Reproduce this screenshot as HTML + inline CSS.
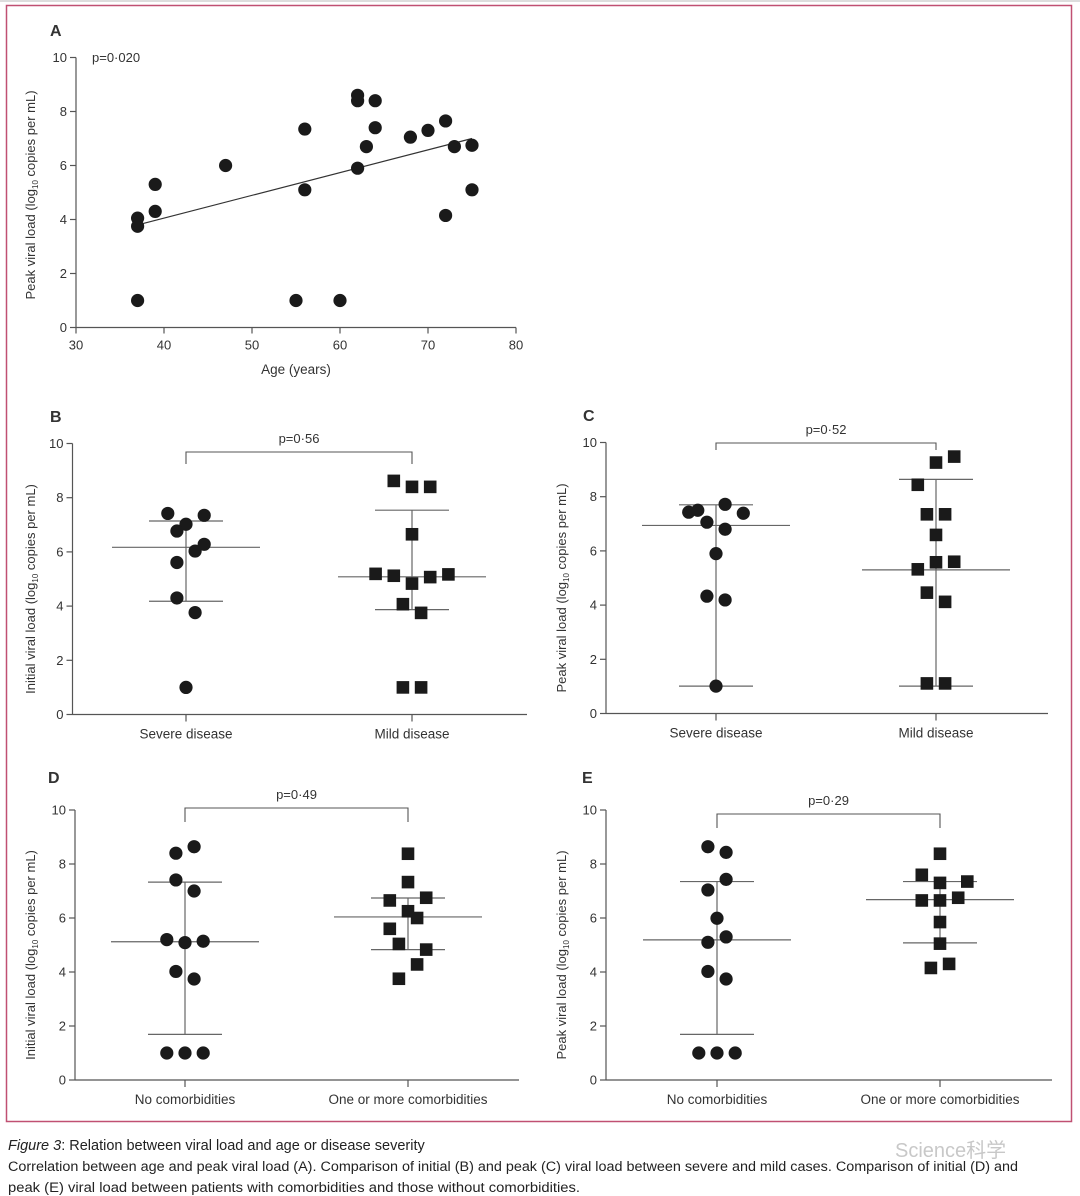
<!DOCTYPE html>
<html><head><meta charset="utf-8"><style>
html,body{margin:0;padding:0;background:#fff;}
svg{display:block;font-family:"Liberation Sans","Noto Sans CJK SC",sans-serif;}
</style></head><body>
<svg id="fig" width="1080" height="1196" viewBox="0 0 1080 1196" xmlns="http://www.w3.org/2000/svg">
<rect x="0" y="0" width="1080" height="2" fill="#ddd"/>
<rect x="6.5" y="5.5" width="1065" height="1116" fill="none" stroke="#c05072" stroke-width="1.5"/>
<g id="plots"></g>
<text x="8" y="1150" font-size="14.5" fill="#222"><tspan font-style="italic">Figure 3</tspan>: Relation between viral load and age or disease severity</text>
<text x="8" y="1171" font-size="13.5" fill="#222" textLength="1010" lengthAdjust="spacingAndGlyphs">Correlation between age and peak viral load (A). Comparison of initial (B) and peak (C) viral load between severe and mild cases. Comparison of initial (D) and</text>
<text x="8" y="1192" font-size="13.5" fill="#222" textLength="572" lengthAdjust="spacingAndGlyphs">peak (E) viral load between patients with comorbidities and those without comorbidities.</text>
<text x="895" y="1157" font-size="20" fill="#c8c8c8">Science科学</text>
</svg>
<script>
// Panel A data
const ageA = [37,37,37,39,39,47,55,56,56,60,62,62,62,63,64,64,68,70,72,72,73,75,75];
const loadA = [4.05,3.75,1,5.3,4.3,6,1,7.35,5.1,1,8.6,8.4,5.9,6.7,8.4,7.4,7.05,7.3,7.65,4.15,6.7,6.75,5.1];
const fitA = [[37,3.8],[75,7.0]];
const xTicksA = [30,40,50,60,70,80];
const yTicks = [0,2,4,6,8,10];
// Panel B
const bSevereOff = [-2,2,0,-1,2,1,-1,-1,1,0];
const bSevereVal = [7.42,7.35,7.02,6.77,6.28,6.03,5.61,4.3,3.76,1.0];
const bMildOff = [-2,0,2,0,-4,-2,0,2,4,-1,1,-1,1];
const bMildVal = [8.62,8.4,8.4,6.65,5.19,5.12,4.83,5.07,5.17,4.07,3.75,1.0,1.0];
const bStats = [[6.17,7.14,4.18],[5.08,7.54,3.87]];
// Panel C
const cSevereOff = [-3,-2,-1,1,3,1,0,-1,1,0];
const cSevereVal = [7.43,7.5,7.06,7.72,7.39,6.8,5.9,4.33,4.19,1.01];
const cMildOff = [-2,0,2,-1,1,0,0,2,-2,-1,1,-1,1];
const cMildVal = [8.44,9.26,9.48,7.35,7.35,6.59,5.58,5.6,5.32,4.46,4.12,1.11,1.11];
const cStats = [[6.94,7.7,1.01],[5.3,8.64,1.01]];
// Panel D
const dNoOff = [-1,1,-1,1,-2,0,2,-1,1,-2,0,2];
const dNoVal = [8.4,8.64,7.41,7.0,5.2,5.09,5.14,4.02,3.74,1.0,1.0,1.0];
const dOneOff = [0,0,-2,2,0,1,-2,-1,2,1,-1];
const dOneVal = [8.38,7.33,6.65,6.75,6.25,6.0,5.6,5.04,4.83,4.28,3.75];
const dStats = [[5.12,7.33,1.69],[6.04,6.74,4.83]];
// Panel E
const eNoOff = [-1,1,1,-1,0,-1,1,-1,1,-2,0,2];
const eNoVal = [8.64,8.43,7.43,7.04,5.99,5.1,5.3,4.02,3.74,1.0,1.0,1.0];
const eOneOff = [0,-2,0,3,-2,0,2,0,0,-1,1];
const eOneVal = [8.38,7.6,7.3,7.35,6.65,6.65,6.75,5.85,5.05,4.15,4.3];
const eStats = [[5.19,7.35,1.69],[6.68,7.35,5.08]];

const NS = "http://www.w3.org/2000/svg";
const root = document.getElementById('plots');
const AX = "#555", TX = "#333", MK = "#1a1a1a";
function mk(tag, attrs, parent){
  const e = document.createElementNS(NS, tag);
  for (const k in attrs) e.setAttribute(k, attrs[k]);
  (parent||root).appendChild(e);
  return e;
}
function txt(x,y,s,size,anchor,parent){
  const t = mk('text',{x:x,y:y,'font-size':size,'text-anchor':anchor||'middle',fill:TX},parent);
  t.textContent = s;
  return t;
}
function yTitle(cx, cy, prefix, parent){
  const t = mk('text',{transform:`translate(${cx},${cy}) rotate(-90)`,'font-size':13,'text-anchor':'middle',fill:TX},parent);
  
  
  const a = document.createElementNS(NS,'tspan'); a.textContent = prefix + ' (log'; t.appendChild(a);
  const b = document.createElementNS(NS,'tspan'); b.setAttribute('font-size','8'); b.setAttribute('dy','3'); b.textContent='10'; t.appendChild(b);
  const c = document.createElementNS(NS,'tspan'); c.setAttribute('dy','-3'); c.textContent=' copies per mL)'; t.appendChild(c);
}
function yAxis(g, x0, yS, top, bottom){
  const l = mk('line',{x1:x0,y1:top,x2:x0,y2:bottom,stroke:AX,'stroke-width':1.2},g);
  
  
  yTicks.forEach(v=>{
    mk('line',{x1:x0-6,y1:yS(v),x2:x0,y2:yS(v),stroke:AX,'stroke-width':1.2},g);
    const t = txt(x0-9, yS(v)+4.5, String(v), 13, 'end', g);
    
    
  });
}
function dot(g,x,y,name){
  const c = mk('circle',{cx:x,cy:y,r:6.6,fill:MK},g);
  
  
}
function sq(g,x,y,name){
  const r = mk('rect',{x:x-6.3,y:y-6.3,width:12.6,height:12.6,fill:MK},g);
  
  
}

// ---- Panel A ----
(function(){
  const g = mk('g',{});
  
  
  const x0=76, x1=516, y0=327.5, y1=57.5;
  const xS = v => x0 + (v-30)/(80-30)*(x1-x0);
  const yS = v => y0 - v/10*(y0-y1);
  const pl = txt(50,36,'A',16,'start',g); pl.setAttribute('font-weight','bold');
  
  
  yAxis(g,x0,yS,y1,y0);
  const xl = mk('line',{x1:x0,y1:y0,x2:x1,y2:y0,stroke:AX,'stroke-width':1.2},g);
  
  
  xTicksA.forEach(v=>{
    mk('line',{x1:xS(v),y1:y0,x2:xS(v),y2:y0+6,stroke:AX,'stroke-width':1.2},g);
    const t = txt(xS(v), y0+22, String(v), 13, 'middle', g);
    
    
  });
  const xt = txt((x0+x1)/2, 374, 'Age (years)', 13.5, 'middle', g);
  
  
  yTitle(35, 195, 'Peak viral load', g);
  const pv = txt(92,62,'p=0·020',13,'start',g);
  
  
  const fl = mk('line',{x1:xS(fitA[0][0]),y1:yS(fitA[0][1]),x2:xS(fitA[1][0]),y2:yS(fitA[1][1]),stroke:'#333','stroke-width':1.2},g);
  
  
  ageA.forEach((a,i)=>dot(g,xS(a),yS(loadA[i]),'data-point'));
})();

// ---- Category panels ----
function catPanel(o){
  const g = mk('g',{});
  
  
  const yS = v => o.y0 - v/10*(o.y0-o.y1);
  const pl = txt(o.lx,o.ly,o.label,16,'start',g); pl.setAttribute('font-weight','bold');
  
  
  yAxis(g,o.x0,yS,o.y1,o.y0);
  const xl = mk('line',{x1:o.x0,y1:o.y0,x2:o.x1,y2:o.y0,stroke:AX,'stroke-width':1.2},g);
  
  
  o.cats.forEach((c,i)=>{
    mk('line',{x1:o.cx[i],y1:o.y0,x2:o.cx[i],y2:o.y0+7,stroke:AX,'stroke-width':1.2},g);
    const t = txt(o.cx[i], o.y0+24, c, 13.5, 'middle', g);
    
    
  });
  yTitle(o.tx, (o.y0+o.y1)/2+10, o.ytitle, g);
  // bracket
  const br = mk('path',{d:`M${o.cx[0]},${o.bb} V${o.bt} H${o.cx[1]} V${o.bb}`,fill:'none',stroke:AX,'stroke-width':1.1},g);
  
  
  const pv = txt((o.cx[0]+o.cx[1])/2, o.bt-9, o.p, 13, 'middle', g);
  
  
  // stats
  o.stats.forEach((s,i)=>{
    const c = o.cx[i];
    const m = mk('line',{x1:c-74,y1:yS(s[0]),x2:c+74,y2:yS(s[0]),stroke:'#666','stroke-width':1.2},g);
    
    
    const u = mk('line',{x1:c-37,y1:yS(s[1]),x2:c+37,y2:yS(s[1]),stroke:'#666','stroke-width':1.2},g);
    
    
    const l = mk('line',{x1:c-37,y1:yS(s[2]),x2:c+37,y2:yS(s[2]),stroke:'#666','stroke-width':1.2},g);
    
    
    const v = mk('line',{x1:c,y1:yS(s[1]),x2:c,y2:yS(s[2]),stroke:'#666','stroke-width':1.2},g);
    
    
  });
  o.off[0].forEach((d,i)=>dot(g,o.cx[0]+d*9.1,yS(o.val[0][i]),'group1-point'));
  o.off[1].forEach((d,i)=>sq(g,o.cx[1]+d*9.1,yS(o.val[1][i]),'group2-point'));
}
catPanel({name:'panel-b',label:'B',lx:50,ly:422,x0:72.5,x1:527,y0:714.5,y1:443.5,cx:[186,412],
  cats:['Severe disease','Mild disease'],ytitle:'Initial viral load',tx:35,bt:452,bb:464,p:'p=0·56',
  stats:bStats,off:[bSevereOff,bMildOff],val:[bSevereVal,bMildVal]});
catPanel({name:'panel-c',label:'C',lx:583,ly:421,x0:606,x1:1048,y0:713.5,y1:442.5,cx:[716,936],
  cats:['Severe disease','Mild disease'],ytitle:'Peak viral  load',tx:566,bt:443,bb:450,p:'p=0·52',
  stats:cStats,off:[cSevereOff,cMildOff],val:[cSevereVal,cMildVal]});
catPanel({name:'panel-d',label:'D',lx:48,ly:783,x0:75,x1:519,y0:1080,y1:810,cx:[185,408],
  cats:['No comorbidities','One or more comorbidities'],ytitle:'Initial viral load',tx:35,bt:808,bb:822,p:'p=0·49',
  stats:dStats,off:[dNoOff,dOneOff],val:[dNoVal,dOneVal]});
catPanel({name:'panel-e',label:'E',lx:582,ly:783,x0:606,x1:1052,y0:1080,y1:810,cx:[717,940],
  cats:['No comorbidities','One or more comorbidities'],ytitle:'Peak viral  load',tx:566,bt:814,bb:828,p:'p=0·29',
  stats:eStats,off:[eNoOff,eOneOff],val:[eNoVal,eOneVal]});
</script>
</body></html>
